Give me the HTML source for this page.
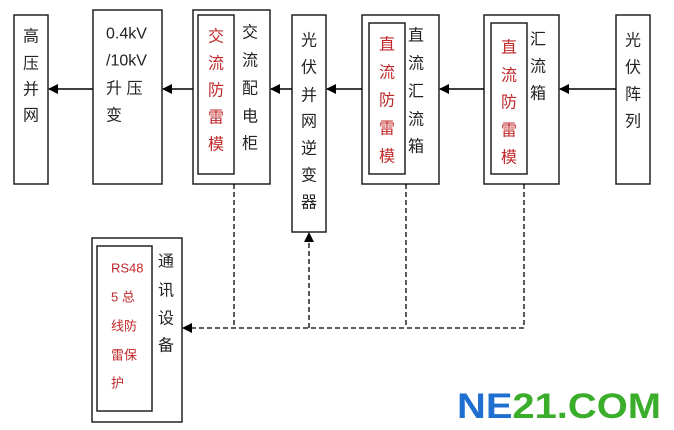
<!DOCTYPE html>
<html><head><meta charset="utf-8"><style>
html,body{margin:0;padding:0;background:#fff;}
svg{display:block;}
text{font-family:"Liberation Sans","Noto Sans CJK SC",sans-serif;}
.b{fill:#fff;stroke:#222;stroke-width:1.5;}
.k{fill:#222;font-size:16px;}
.r{fill:#c0282a;font-size:16px;}
.s{fill:#c0282a;font-size:13px;}
</style></head><body>
<svg width="674" height="430" viewBox="0 0 674 430" xmlns="http://www.w3.org/2000/svg">
<defs><marker id="a" markerWidth="10" markerHeight="10" refX="9" refY="5" orient="auto" markerUnits="userSpaceOnUse"><path d="M0,0 L10,5 L0,10 z" fill="#000"/></marker></defs>
<rect class="b" x="14" y="15" width="34" height="169"/>
<rect class="b" x="93" y="10" width="69" height="174"/>
<rect class="b" x="193" y="10" width="77" height="174"/>
<rect class="b" x="198" y="15" width="36" height="159"/>
<rect class="b" x="292" y="15" width="34" height="217"/>
<rect class="b" x="362" y="15" width="77" height="169"/>
<rect class="b" x="369" y="23" width="36" height="151"/>
<rect class="b" x="484" y="15" width="75" height="169"/>
<rect class="b" x="491" y="23" width="36" height="151"/>
<rect class="b" x="616" y="15" width="34" height="169"/>
<rect class="b" x="92" y="238" width="90" height="184"/>
<rect class="b" x="97" y="246" width="55" height="165"/>
<g stroke="#000" stroke-width="1.5" fill="none">
<line x1="93" y1="89" x2="49" y2="89" marker-end="url(#a)"/>
<line x1="193" y1="89" x2="163" y2="89" marker-end="url(#a)"/>
<line x1="292" y1="89" x2="271" y2="89" marker-end="url(#a)"/>
<line x1="362" y1="89" x2="327" y2="89" marker-end="url(#a)"/>
<line x1="484" y1="89" x2="440" y2="89" marker-end="url(#a)"/>
<line x1="616" y1="89" x2="560" y2="89" marker-end="url(#a)"/>
</g>
<g stroke="#000" stroke-width="1.3" fill="none" stroke-dasharray="5,3">
<line x1="234" y1="184" x2="234" y2="328"/>
<line x1="406" y1="184" x2="406" y2="328"/>
<line x1="524" y1="184" x2="524" y2="328"/>
<line x1="309" y1="328" x2="309" y2="233" marker-end="url(#a)"/>
<line x1="524" y1="328" x2="183" y2="328" marker-end="url(#a)"/>
</g>
<g dominant-baseline="central" text-anchor="middle">
<text class="k" x="31" y="37">高</text><text class="k" x="31" y="64">压</text><text class="k" x="31" y="90">并</text><text class="k" x="31" y="116">网</text>
<text class="r" x="216" y="37">交</text><text class="r" x="216" y="64">流</text><text class="r" x="216" y="91">防</text><text class="r" x="216" y="118">雷</text><text class="r" x="216" y="145">模</text>
<text class="k" x="250" y="33">交</text><text class="k" x="250" y="61">流</text><text class="k" x="250" y="89">配</text><text class="k" x="250" y="117">电</text><text class="k" x="250" y="144">柜</text>
<text class="k" x="309" y="41">光</text><text class="k" x="309" y="68">伏</text><text class="k" x="309" y="96">并</text><text class="k" x="309" y="122">网</text><text class="k" x="309" y="149">逆</text><text class="k" x="309" y="176">变</text><text class="k" x="309" y="203">器</text>
<text class="r" x="387" y="45">直</text><text class="r" x="387" y="73">流</text><text class="r" x="387" y="101">防</text><text class="r" x="387" y="129">雷</text><text class="r" x="387" y="157">模</text>
<text class="k" x="416" y="36">直</text><text class="k" x="416" y="64">流</text><text class="k" x="416" y="92">汇</text><text class="k" x="416" y="120">流</text><text class="k" x="416" y="147">箱</text>
<text class="r" x="509" y="48">直</text><text class="r" x="509" y="76">流</text><text class="r" x="509" y="103">防</text><text class="r" x="509" y="131">雷</text><text class="r" x="509" y="158">模</text>
<text class="k" x="538" y="40">汇</text><text class="k" x="538" y="67">流</text><text class="k" x="538" y="94">箱</text>
<text class="k" x="633" y="41">光</text><text class="k" x="633" y="68">伏</text><text class="k" x="633" y="95">阵</text><text class="k" x="633" y="122">列</text>
<text class="k" x="166" y="262">通</text><text class="k" x="166" y="291">讯</text><text class="k" x="166" y="319">设</text><text class="k" x="166" y="346">备</text>
</g>
<g dominant-baseline="central">
<text class="k" x="106" y="34">0.4kV</text>
<text class="k" x="106" y="61">/10kV</text>
<text class="k" x="106" y="89">升 压</text>
<text class="k" x="106" y="116">变</text>
<text class="s" x="111" y="268">RS48</text>
<text class="s" x="111" y="297">5  总</text>
<text class="s" x="111" y="326">线防</text>
<text class="s" x="111" y="355">雷保</text>
<text class="s" x="111" y="383">护</text>
</g>
<text x="457" y="418" font-size="35" font-weight="bold" textLength="204" lengthAdjust="spacingAndGlyphs" style="font-family:'Liberation Sans',sans-serif"><tspan fill="#1e6fd0">NE</tspan><tspan fill="#3aae2a">21.COM</tspan></text>
</svg>
</body></html>
